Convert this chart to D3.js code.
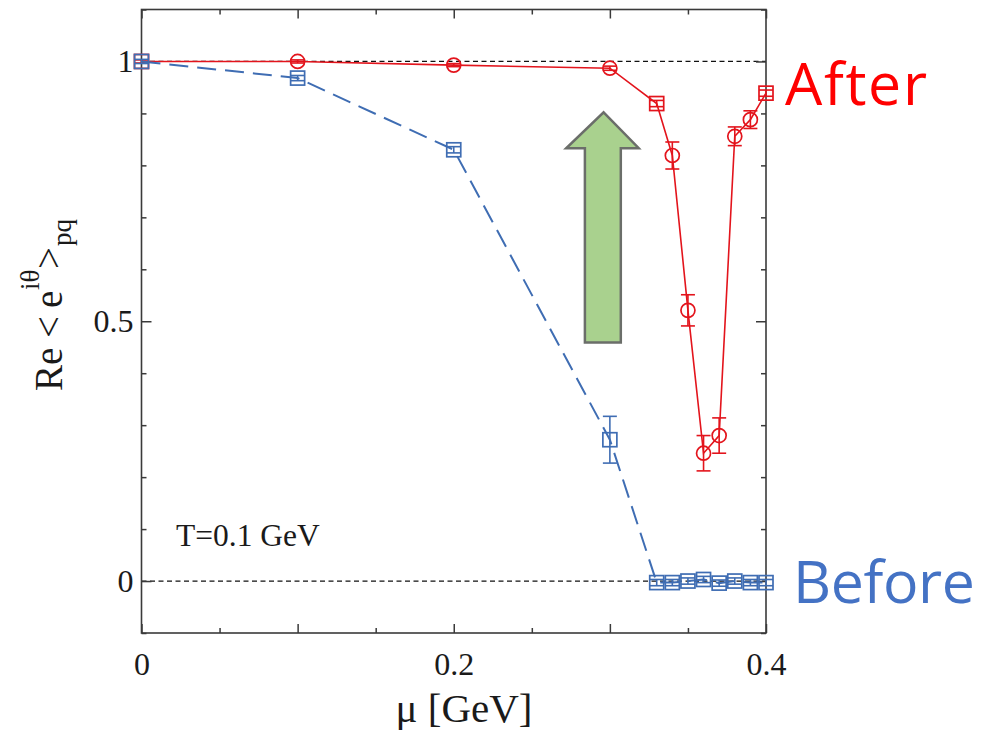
<!DOCTYPE html>
<html>
<head>
<meta charset="utf-8">
<script src="https://cdn.jsdelivr.net/npm/d3@7"></script>
<style>
  html, body { margin: 0; padding: 0; background: #fff; }
  svg { display: block; }
</style>
</head>
<body>
<svg id="chart" width="981" height="730"></svg>
<script>
// ---------------- data ----------------
const afterMu    = [0, 0.1, 0.2, 0.3, 0.33, 0.34, 0.35, 0.36, 0.37, 0.38, 0.39, 0.40];
const afterVal   = [1.0, 1.0, 0.993, 0.987, 0.919, 0.819, 0.521, 0.246, 0.280, 0.856, 0.888, 0.939];
const afterErr   = [0.003, 0.003, 0.003, 0.004, 0.006, 0.026, 0.030, 0.034, 0.034, 0.018, 0.017, 0.006];
const afterShape = ["square", "circle", "circle", "circle", "square", "circle", "circle", "circle", "circle", "circle", "circle", "square"];

const beforeMu   = [0, 0.1, 0.2, 0.3, 0.33, 0.34, 0.35, 0.36, 0.37, 0.38, 0.39, 0.40];
const beforeVal  = [1.0, 0.968, 0.830, 0.272, -0.003, -0.003, 0.0, 0.003, -0.004, 0.0, -0.003, -0.003];
const beforeErr  = [0.004, 0.005, 0.006, 0.045, 0.006, 0.006, 0.006, 0.006, 0.006, 0.006, 0.006, 0.006];

const xMajorTicks = [0, 0.1, 0.2, 0.3, 0.4];
const xMinorTicks = [0.05, 0.15, 0.25, 0.35];
const xTickLabels = {0: "0", 0.2: "0.2", 0.4: "0.4"};
const yMajorTicks = [0, 0.5, 1];
const yMinorTicks = [-0.1, 0.1, 0.2, 0.3, 0.4, 0.6, 0.7, 0.8, 0.9, 1.1];
const yTickLabels = {0: "0", 0.5: "0.5", 1: "1"};
const refLines = [0, 1];

// arrow annotation in data units: [mu, value]
const arrowPts = [[0.296, 0.902], [0.3185, 0.833], [0.307, 0.833], [0.307, 0.459],
                  [0.284, 0.459], [0.284, 0.833], [0.272, 0.833]];

// ---------------- layout ----------------
const svg = d3.select("#chart");
const L = 141.5, R = 766, T = 9.5, B = 633;
const x = d3.scaleLinear().domain([0, 0.4]).range([L, R]);
const y = d3.scaleLinear().domain([-0.1, 1.1]).range([B, T]);

const redC = "#e3141c";
const blueC = "#3f6db3";
const frameC = "#3a3a3a";
const serif = "'Liberation Serif', 'Times New Roman', serif";

// reference dashed lines
svg.append("g").selectAll("line").data(refLines).join("line")
  .attr("x1", L).attr("x2", R)
  .attr("y1", d => y(d)).attr("y2", d => y(d))
  .attr("stroke", "#111").attr("stroke-width", 1.3)
  .attr("stroke-dasharray", "5 3.5");

// arrow
svg.append("path")
  .attr("d", d3.line().x(d => x(d[0])).y(d => y(d[1])).curve(d3.curveLinearClosed)(arrowPts))
  .attr("fill", "#a9d18e").attr("stroke", "#6b6e6a").attr("stroke-width", 2.5)
  .attr("stroke-linejoin", "miter");

// axes (frame + ticks)
function styleAxis(g) {
  g.selectAll(".domain").remove();
  g.selectAll(".tick line").attr("stroke", frameC).attr("stroke-width", 1.5);
  g.selectAll("text").attr("font-family", serif).attr("font-size", 32).attr("fill", "#1a1a1a");
}
// bottom
svg.append("g").attr("transform", `translate(0,${B})`)
  .call(d3.axisBottom(x).tickValues(xMinorTicks).tickSize(-5).tickFormat(""))
  .call(styleAxis);
svg.append("g").attr("transform", `translate(0,${B})`)
  .call(d3.axisBottom(x).tickValues(xMajorTicks).tickSize(-9).tickPadding(19)
    .tickFormat(d => xTickLabels[d] !== undefined ? xTickLabels[d] : ""))
  .call(styleAxis);
// top
svg.append("g").attr("transform", `translate(0,${T})`)
  .call(d3.axisTop(x).tickValues(xMinorTicks).tickSize(-5).tickFormat(""))
  .call(styleAxis);
svg.append("g").attr("transform", `translate(0,${T})`)
  .call(d3.axisTop(x).tickValues(xMajorTicks).tickSize(-9).tickFormat(""))
  .call(styleAxis);
// left
svg.append("g").attr("transform", `translate(${L},0)`)
  .call(d3.axisLeft(y).tickValues(yMinorTicks).tickSize(-5).tickFormat(""))
  .call(styleAxis);
svg.append("g").attr("transform", `translate(${L},0)`)
  .call(d3.axisLeft(y).tickValues(yMajorTicks).tickSize(-10).tickPadding(8)
    .tickFormat(d => yTickLabels[d]))
  .call(styleAxis);
// right
svg.append("g").attr("transform", `translate(${R},0)`)
  .call(d3.axisRight(y).tickValues(yMinorTicks).tickSize(-5).tickFormat(""))
  .call(styleAxis);
svg.append("g").attr("transform", `translate(${R},0)`)
  .call(d3.axisRight(y).tickValues(yMajorTicks).tickSize(-10).tickFormat(""))
  .call(styleAxis);

// frame
svg.append("rect").attr("x", L).attr("y", T).attr("width", R - L).attr("height", B - T)
  .attr("fill", "none").attr("stroke", frameC).attr("stroke-width", 1.6);

// ---------------- series ----------------
function drawSeries(mu, val, err, shapes, color, dash, lw) {
  const pts = mu.map((m, i) => ({m, v: val[i], e: err[i], s: shapes[i]}));
  const g = svg.append("g");
  g.append("path")
    .attr("d", d3.line().x(d => x(d.m)).y(d => y(d.v))(pts))
    .attr("fill", "none").attr("stroke", color).attr("stroke-width", lw)
    .attr("stroke-dasharray", dash);
  const cap = 7;
  const eb = g.selectAll("g.eb").data(pts).join("g").attr("class", "eb")
    .attr("stroke", color).attr("stroke-width", 1.6);
  eb.append("line").attr("x1", d => x(d.m)).attr("x2", d => x(d.m))
    .attr("y1", d => y(d.v - d.e)).attr("y2", d => y(d.v + d.e));
  eb.append("line").attr("x1", d => x(d.m) - cap).attr("x2", d => x(d.m) + cap)
    .attr("y1", d => y(d.v - d.e)).attr("y2", d => y(d.v - d.e));
  eb.append("line").attr("x1", d => x(d.m) - cap).attr("x2", d => x(d.m) + cap)
    .attr("y1", d => y(d.v + d.e)).attr("y2", d => y(d.v + d.e));
  const mk = g.selectAll("g.mk").data(pts).join("g").attr("class", "mk")
    .attr("fill", "none").attr("stroke", color).attr("stroke-width", 1.7);
  mk.filter(d => d.s === "circle").append("circle")
    .attr("cx", d => x(d.m)).attr("cy", d => y(d.v)).attr("r", 7);
  mk.filter(d => d.s === "square").append("rect")
    .attr("x", d => x(d.m) - 7).attr("y", d => y(d.v) - 7).attr("width", 14).attr("height", 14);
}
drawSeries(afterMu, afterVal, afterErr, afterShape, redC, null, 1.6);
drawSeries(beforeMu, beforeVal, beforeErr, beforeMu.map(() => "square"), blueC, "19 9", 2);

// ---------------- texts ----------------
svg.append("text").attr("x", 176).attr("y", 546)
  .attr("font-family", serif).attr("font-size", 31.5).attr("fill", "#1a1a1a")
  .text("T=0.1 GeV");

svg.append("text").attr("x", 464).attr("y", 722).attr("text-anchor", "middle")
  .attr("font-family", serif).attr("font-size", 41).attr("fill", "#1a1a1a")
  .text("μ [GeV]");

const yl = svg.append("text").attr("transform", "translate(62,391) rotate(-90)")
  .attr("font-family", serif).attr("font-size", 39).attr("fill", "#1a1a1a");
yl.append("tspan").attr("x", 0).attr("y", 0).text("Re");
yl.append("tspan").attr("x", 53).attr("y", 0).text("<");
yl.append("tspan").attr("x", 83).attr("y", 0).text("e");
yl.append("tspan").attr("x", 101).attr("y", -23).attr("font-size", 27).text("iθ");
yl.append("tspan").attr("x", 122).attr("y", 0).text(">");
yl.append("tspan").attr("x", 145).attr("y", 9).attr("font-size", 27).text("pq");

svg.append("text").attr("x", 785).attr("y", 105)
  .attr("font-family", "'Open Sans', 'Noto Sans', sans-serif").attr("font-size", 59)
  .attr("fill", "#ff0000").attr("textLength", 142).attr("lengthAdjust", "spacing")
  .text("After");
svg.append("text").attr("x", 793).attr("y", 603)
  .attr("font-family", "'Open Sans', 'Noto Sans', sans-serif").attr("font-size", 59)
  .attr("fill", "#4472c4").attr("textLength", 182).attr("lengthAdjust", "spacing")
  .text("Before");
</script>
</body>
</html>
